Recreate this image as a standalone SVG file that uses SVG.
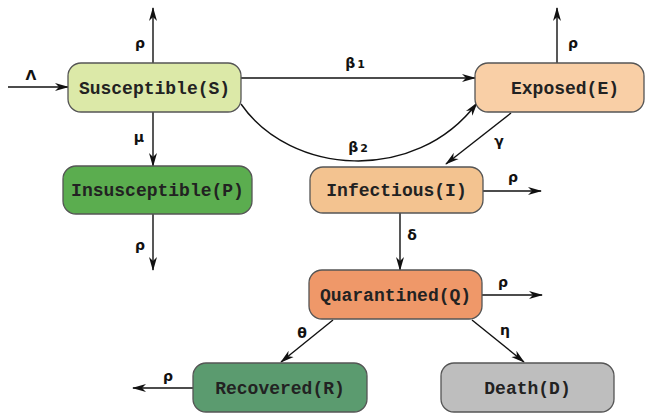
<svg xmlns="http://www.w3.org/2000/svg" width="646" height="414" viewBox="0 0 646 414">
<defs>
<marker id="ah" markerWidth="14" markerHeight="10" refX="13" refY="5" orient="auto" markerUnits="userSpaceOnUse">
<path d="M0,1 L14,5 L0,9 L4,5 z" fill="#111"/>
</marker>
<style>
.box{stroke:#555;stroke-width:1.3}
.lbl{font-family:"Liberation Mono",monospace;font-size:18px;font-weight:bold;fill:#222;text-anchor:middle}
.gk{font-family:"DejaVu Sans","Liberation Sans",sans-serif;font-size:14px;font-weight:bold;fill:#111;text-anchor:middle}
.ln{stroke:#111;stroke-width:1.4;fill:none;marker-end:url(#ah)}
</style>
</defs>
<rect width="646" height="414" fill="#fff"/>
<g id="connectors">
<line class="ln" x1="8" y1="87" x2="68" y2="87"/>
<line class="ln" x1="153" y1="63" x2="153" y2="8"/>
<line class="ln" x1="153" y1="112" x2="153" y2="166"/>
<line class="ln" x1="153" y1="214" x2="153" y2="270"/>
<line class="ln" x1="241" y1="78" x2="475" y2="78"/>
<path class="ln" d="M241,104 C290,175 415,185 477,103"/>
<line class="ln" x1="557" y1="63" x2="557" y2="8"/>
<line class="ln" x1="511" y1="113" x2="446" y2="164"/>
<line class="ln" x1="483" y1="191" x2="541" y2="191"/>
<line class="ln" x1="400" y1="213" x2="400" y2="270"/>
<line class="ln" x1="482" y1="295" x2="542" y2="295"/>
<line class="ln" x1="333" y1="320" x2="281" y2="362"/>
<line class="ln" x1="472" y1="320" x2="524" y2="362"/>
<line class="ln" x1="193" y1="388" x2="133" y2="388"/>
<text class="gk" x="31" y="80">Λ</text>
<text class="gk" x="140" y="48">ρ</text>
<text class="gk" x="139" y="142">μ</text>
<text class="gk" x="140" y="250">ρ</text>
<text class="gk" x="355" y="68">β<tspan font-size="11" dx="2">1</tspan></text>
<text class="gk" x="358" y="152">β<tspan font-size="11" dx="2">2</tspan></text>
<text class="gk" x="573" y="48">ρ</text>
<text class="gk" x="499" y="146">γ</text>
<text class="gk" x="513" y="182">ρ</text>
<text class="gk" x="412" y="240">δ</text>
<text class="gk" x="503" y="287">ρ</text>
<text class="gk" x="302" y="338">θ</text>
<text class="gk" x="505" y="335">η</text>
<text class="gk" x="168" y="381">ρ</text>
</g>
<g id="S"><rect class="box" x="68" y="63" width="173" height="49" rx="13" fill="#dce9a8"/><text class="lbl" x="154.5" y="94">Susceptible(S)</text></g>
<g id="P"><rect class="box" x="63" y="166" width="189" height="48" rx="13" fill="#5bad4f"/><text class="lbl" x="157.5" y="196">Insusceptible(P)</text></g>
<g id="E"><rect class="box" x="475" y="63" width="169" height="49" rx="13" fill="#f9cfa6"/><text class="lbl" x="565" y="94">Exposed(E)</text></g>
<g id="I"><rect class="box" x="310" y="167" width="173" height="46" rx="13" fill="#f3c390"/><text class="lbl" x="396.5" y="196">Infectious(I)</text></g>
<g id="Q"><rect class="box" x="309" y="270" width="173" height="49" rx="13" fill="#ef9869"/><text class="lbl" x="395.5" y="301">Quarantined(Q)</text></g>
<g id="R"><rect class="box" x="193" y="363" width="174" height="49" rx="13" fill="#5b9b6f"/><text class="lbl" x="280" y="394">Recovered(R)</text></g>
<g id="D"><rect class="box" x="441" y="363" width="173" height="49" rx="13" fill="#bebebe"/><text class="lbl" x="527.5" y="394">Death(D)</text></g>
</svg>
